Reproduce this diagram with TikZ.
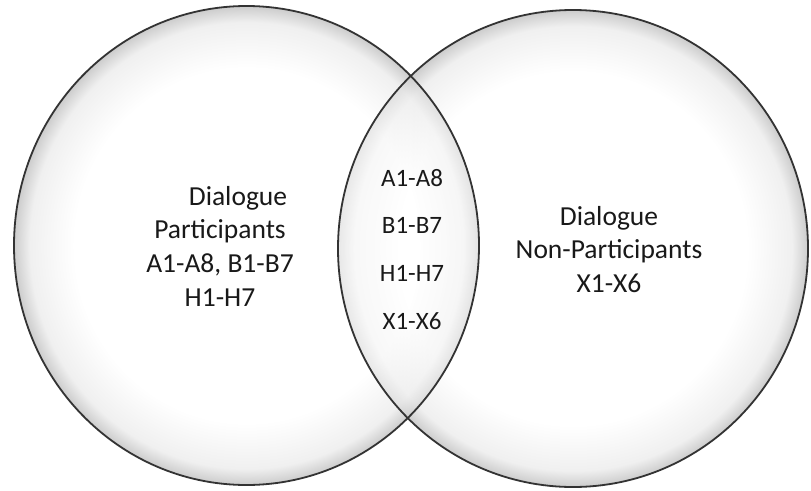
\documentclass[tikz,border=0pt]{standalone}
\usepackage{fontspec}
\setmainfont{Carlito}
\usepackage{tikz}
\usetikzlibrary{shapes.geometric}
\pgfdeclareradialshading{rimshade}{\pgfpoint{0bp}{0bp}}{color(0bp)=(white); color(18.5bp)=(white); color(23.3bp)=(black!6); color(25bp)=(black!20); color(50bp)=(black!20)}
\tikzstyle{rim} = [draw=black!80, line width=1.8pt]
\tikzstyle{bigtxt} = [align=center, font=\fontsize{27.5}{33.7}\selectfont, text=black!90]
\tikzstyle{lenstxt} = [font=\fontsize{25}{30}\selectfont, text=black!90]

\begin{document}
\begin{tikzpicture}[x=1pt, y=-1pt, node distance=47.7pt]
		\useasboundingbox (0,0) rectangle (811,490);
		\fill [white] (0,0) rectangle (811,490);
		% the two sets
		\shade [shading=rimshade] (246.5,245.5) ellipse [x radius=232.5, y radius=239.5];
		\shade [shading=rimshade] (573,248.5) ellipse [x radius=235, y radius=238.5];
		\begin{scope}
			\clip (573,248.5) ellipse [x radius=235, y radius=238.5];
			\shade [shading=rimshade, fill opacity=0.55] (246.5,245.5) ellipse [x radius=232.5, y radius=239.5];
		\end{scope}
		\draw [rim] (246.5,245.5) ellipse [x radius=232.5, y radius=239.5];
		\draw [rim] (573,248.5) ellipse [x radius=235, y radius=238.5];
		% labels
		\node (part) [bigtxt] at (220,246) {\hspace*{36pt}Dialogue\\Participants\\A1-A8, B1-B7\\H1-H7};
		\node (nonpart) [bigtxt] at (609,249.5) {Dialogue\\Non-Participants\\X1-X6};
		\node (a) [lenstxt] at (412,178) {A1-A8};
		\node (b) [lenstxt, below of=a] {B1-B7};
		\node (h) [lenstxt, below of=b] {H1-H7};
		\node (x) [lenstxt, below of=h] {X1-X6};
\end{tikzpicture}
\end{document}
